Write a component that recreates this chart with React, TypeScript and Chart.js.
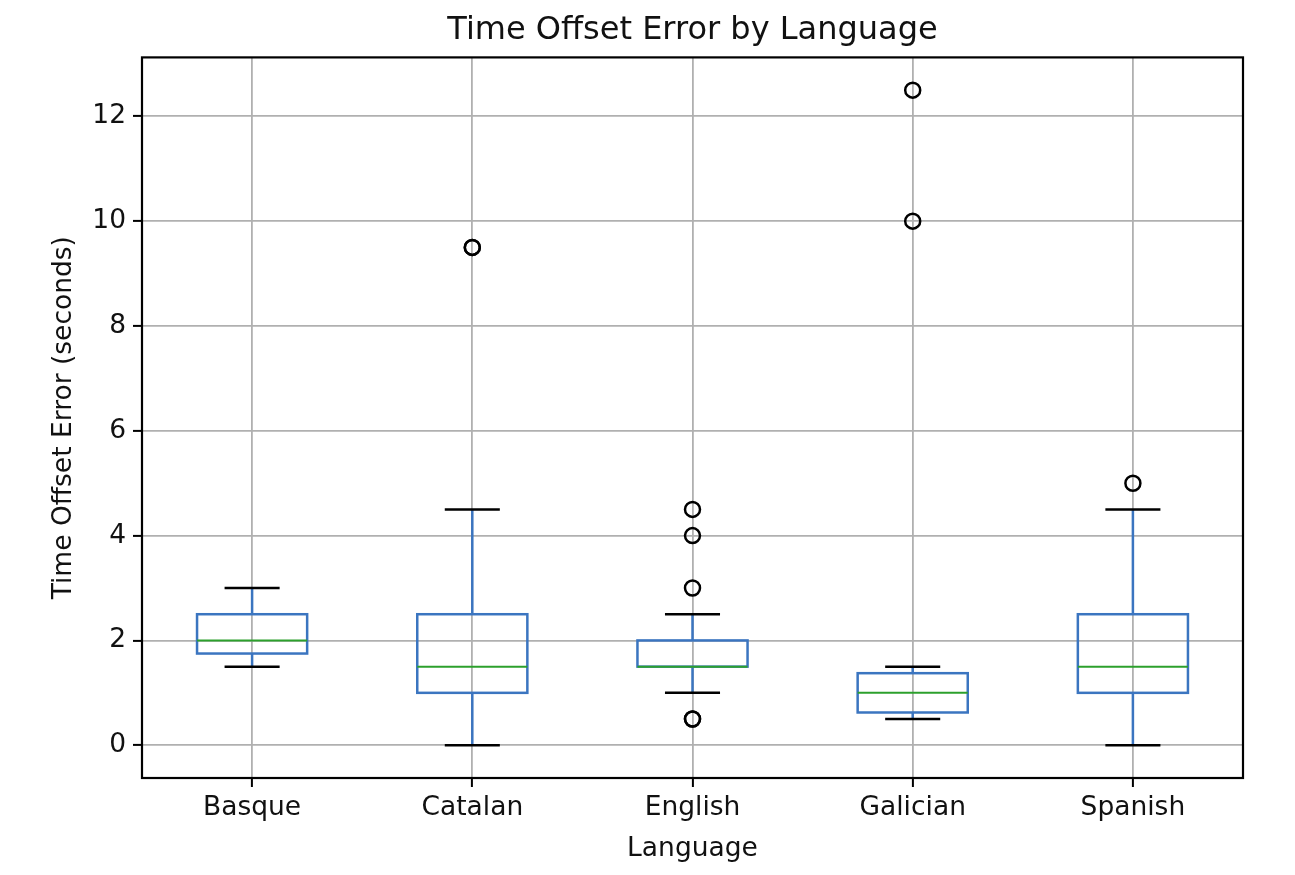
import React, { useEffect, useRef } from "react";
import { Chart, registerables } from "chart.js";

Chart.register(...registerables);

const CATEGORIES = ["Basque", "Catalan", "English", "Galician", "Spanish"];
const WHISKER_LOW = [1.5, 0, 1, 0.5, 0];
const Q1 = [1.75, 1, 1.5, 0.625, 1];
const MEDIAN = [2, 1.5, 1.5, 1, 1.5];
const Q3 = [2.5, 2.5, 2, 1.375, 2.5];
const WHISKER_HIGH = [3, 4.5, 2.5, 1.5, 4.5];
const OUTLIERS = [[], [9.5, 9.5], [0.5, 0.5, 3, 4, 4.5], [10, 12.5], [5]];
const Y_TICKS = [0, 2, 4, 6, 8, 10, 12];
const Y_MIN = -0.625;
const Y_MAX = 13.125;

const FONT = "'DejaVu Sans', sans-serif";
const BOX_COLOR = "#3b75c0";
const MEDIAN_COLOR = "#2ca02c";
const CAP_COLOR = "#000000";

const boxPlugin = {
  id: "boxes",
  beforeDatasetsDraw(chart: any) {
    const { ctx } = chart;
    const x = chart.scales.x;
    const y = chart.scales.y;
    ctx.save();
    ctx.lineCap = "butt";
    CATEGORIES.forEach((_, i) => {
      const pos = i + 1;
      const cx = x.getPixelForValue(pos);
      const bl = x.getPixelForValue(pos - 0.25);
      const br = x.getPixelForValue(pos + 0.25);
      const cl = x.getPixelForValue(pos - 0.125);
      const cr = x.getPixelForValue(pos + 0.125);
      const yLow = y.getPixelForValue(WHISKER_LOW[i]);
      const yQ1 = y.getPixelForValue(Q1[i]);
      const yMed = y.getPixelForValue(MEDIAN[i]);
      const yQ3 = y.getPixelForValue(Q3[i]);
      const yHigh = y.getPixelForValue(WHISKER_HIGH[i]);
      // whiskers
      ctx.strokeStyle = BOX_COLOR;
      ctx.lineWidth = 2.5;
      ctx.beginPath();
      ctx.moveTo(cx, yQ1);
      ctx.lineTo(cx, yLow);
      ctx.moveTo(cx, yQ3);
      ctx.lineTo(cx, yHigh);
      ctx.stroke();
      // caps
      ctx.strokeStyle = CAP_COLOR;
      ctx.beginPath();
      ctx.moveTo(cl, yLow);
      ctx.lineTo(cr, yLow);
      ctx.moveTo(cl, yHigh);
      ctx.lineTo(cr, yHigh);
      ctx.stroke();
      // box
      ctx.strokeStyle = BOX_COLOR;
      ctx.strokeRect(bl, yQ3, br - bl, yQ1 - yQ3);
      // median
      ctx.strokeStyle = MEDIAN_COLOR;
      ctx.lineWidth = 2;
      ctx.beginPath();
      ctx.moveTo(bl, yMed);
      ctx.lineTo(br, yMed);
      ctx.stroke();
    });
    ctx.restore();
  },
  afterDraw(chart: any) {
    const { ctx, chartArea } = chart;
    ctx.save();
    ctx.strokeStyle = "#000";
    ctx.lineWidth = 2.2;
    ctx.strokeRect(
      chartArea.left,
      chartArea.top,
      chartArea.right - chartArea.left,
      chartArea.bottom - chartArea.top
    );
    ctx.restore();
  },
};

export default function App() {
  const ref = useRef<HTMLCanvasElement>(null);

  useEffect(() => {
    if (!ref.current) return;
    const points: { x: number; y: number }[] = [];
    OUTLIERS.forEach((vals, i) => vals.forEach((v) => points.push({ x: i + 1, y: v })));

    const chart = new Chart(ref.current, {
      type: "scatter",
      data: {
        datasets: [
          {
            label: "Outliers",
            data: points,
            pointStyle: "circle",
            pointRadius: 7.5,
            pointHoverRadius: 7.5,
            pointBorderWidth: 2.5,
            pointBorderColor: "#000",
            pointBackgroundColor: "rgba(0,0,0,0)",
          },
        ],
      },
      options: {
        animation: false,
        responsive: true,
        maintainAspectRatio: false,
        layout: { padding: { left: 0, right: 52, top: 0, bottom: 0 } },
        plugins: {
          legend: { display: false },
          tooltip: { enabled: false },
          title: {
            display: true,
            text: "Time Offset Error by Language",
            fullSize: false,
            color: "#111",
            font: { family: FONT, size: 32, weight: "normal", lineHeight: 1.2 },
            padding: { top: 11, bottom: 8 },
          },
        },
        scales: {
          x: {
            type: "linear",
            min: 0.5,
            max: 5.5,
            afterBuildTicks: (scale: any) => {
              scale.ticks = CATEGORIES.map((_, i) => ({ value: i + 1 }));
            },
            afterFit: (scale: any) => {
              scale.height = 97;
            },
            ticks: {
              callback: (v: any) => CATEGORIES[Math.round(Number(v)) - 1] ?? "",
              color: "#111",
              font: { family: FONT, size: 26.5 },
              padding: 5,
              maxRotation: 0,
              autoSkip: false,
            },
            grid: {
              color: "#b0b0b0",
              lineWidth: 1.8,
              tickLength: 9,
              tickColor: "#000",
              tickWidth: 2,
            },
            border: { display: false },
            title: {
              display: true,
              text: "Language",
              color: "#111",
              font: { family: FONT, size: 26.5, lineHeight: 1.2 },
              padding: { top: 0, bottom: 10 },
            },
          },
          y: {
            type: "linear",
            min: Y_MIN,
            max: Y_MAX,
            afterBuildTicks: (scale: any) => {
              scale.ticks = Y_TICKS.map((v) => ({ value: v }));
            },
            afterFit: (scale: any) => {
              scale.width = 142;
            },
            ticks: {
              color: "#111",
              font: { family: FONT, size: 26.5 },
              padding: 7,
            },
            grid: {
              color: "#b0b0b0",
              lineWidth: 1.8,
              tickLength: 9,
              tickColor: "#000",
              tickWidth: 2,
            },
            border: { display: false },
            title: {
              display: true,
              text: "Time Offset Error (seconds)",
              color: "#111",
              font: { family: FONT, size: 26.5, lineHeight: 1.2 },
              padding: { top: 48, bottom: 0 },
            },
          },
        },
      },
      plugins: [boxPlugin],
    } as any);
    return () => chart.destroy();
  }, []);

  return (
    <div style={{ position: "fixed", left: 0, top: 0, width: 1295, height: 875, background: "#fff" }}>
      <canvas ref={ref} />
    </div>
  );
}
